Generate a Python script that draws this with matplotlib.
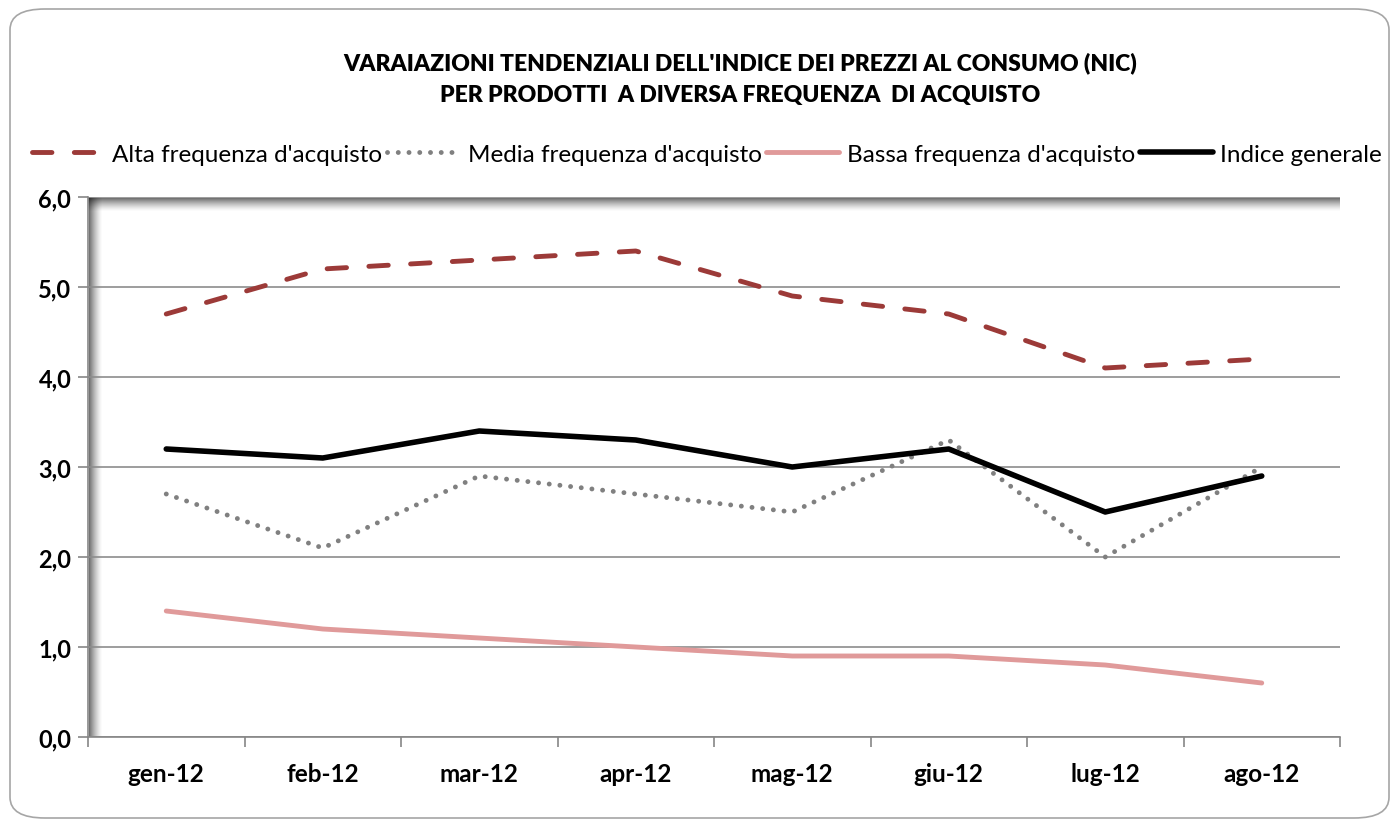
import matplotlib
matplotlib.use("Agg")
import matplotlib.pyplot as plt
from matplotlib.patches import FancyBboxPatch, Rectangle
from matplotlib import font_manager

names = {f.name for f in font_manager.fontManager.ttflist}
FONT = "Lato" if "Lato" in names else "DejaVu Sans"
plt.rcParams['font.family'] = [FONT, 'DejaVu Sans']

months = ["gen-12", "feb-12", "mar-12", "apr-12", "mag-12", "giu-12", "lug-12", "ago-12"]
alta = [4.7, 5.2, 5.3, 5.4, 4.9, 4.7, 4.1, 4.2]
media = [2.7, 2.1, 2.9, 2.7, 2.5, 3.3, 2.0, 3.0]
bassa = [1.4, 1.2, 1.1, 1.0, 0.9, 0.9, 0.8, 0.6]
indice = [3.2, 3.1, 3.4, 3.3, 3.0, 3.2, 2.5, 2.9]
labels = ["Alta frequenza d'acquisto", "Media frequenza d'acquisto",
          "Bassa frequenza d'acquisto", "Indice generale"]
yticks = [0, 1, 2, 3, 4, 5, 6]
title = "VARAIAZIONI TENDENZIALI DELL'INDICE DEI PREZZI AL CONSUMO (NIC)\nPER PRODOTTI  A DIVERSA FREQUENZA  DI ACQUISTO"

W, H = 1399, 829
fig = plt.figure(figsize=(W / 100, H / 100), dpi=100)

# outer rounded border
border = FancyBboxPatch((10 / W, 10 / H), (W - 20) / W, (H - 20) / H,
                        boxstyle="round,pad=0,rounding_size=0.025",
                        transform=fig.transFigure, fill=False,
                        edgecolor="#a6a6a6", linewidth=1.2)
fig.patches.append(border)

L, R, T, B = 88, 1340, 198, 738
ax = fig.add_axes([L / W, 1 - B / H, (R - L) / W, (B - T) / H])

x = list(range(len(months)))
ax.plot(x, alta, color="#9c3a38", lw=3.5, linestyle=(0, (4.0, 4.6)), label=labels[0], dash_capstyle="round")
ax.plot(x, media, color="#808080", lw=3.5, linestyle=(0, (0.01, 2.2)), dash_capstyle="round", label=labels[1])
ax.plot(x, bassa, color="#e09a9a", lw=3.5, label=labels[2], solid_capstyle="round")
ax.plot(x, indice, color="black", lw=4, label=labels[3], solid_capstyle="round")

ax.set_xlim(-0.5, len(months) - 0.5)
ax.set_ylim(0, 6)
ax.set_yticks(yticks)
ax.set_yticklabels([f"{v:.1f}".replace(".", ",") for v in yticks], fontsize=17, fontweight="bold")
ax.set_xticks(x)
ax.set_xticklabels(months, fontsize=17.5, fontweight="bold")
ax.set_xticks([i - 0.5 for i in range(len(months) + 1)], minor=True)
ax.tick_params(axis="x", which="major", length=0, pad=18)
ax.tick_params(axis="x", which="minor", length=7, color="#868686", width=1.2)
ax.tick_params(axis="y", length=7, color="#868686", width=1.2, pad=5)
ax.grid(axis="y", color="#8c8c8c", lw=1.2)
ax.set_axisbelow(True)
for s in ["top", "right"]:
    ax.spines[s].set_visible(False)
for s in ["left", "bottom"]:
    ax.spines[s].set_color("#868686")
    ax.spines[s].set_linewidth(1.2)

# shadow effect on left and top of plot area
n = 13
wx = 1.0 / (R - L)   # one pixel in axes x
wy = 1.0 / (B - T)   # one pixel in axes y
for i in range(n):
    a = 0.55 * (1 - i / n) ** 1.4
    ax.add_patch(Rectangle(((i + 1) * wx, 0), wx, 1, transform=ax.transAxes,
                           color="black", alpha=a, lw=0, zorder=0.5))
    ax.add_patch(Rectangle((0, 1 - (i + 2) * wy), 1, wy, transform=ax.transAxes,
                           color="black", alpha=a, lw=0, zorder=0.5))

fig.text(740 / W, 1 - 79 / H, title, ha="center", va="center", fontsize=16.5,
         fontweight="heavy", linespacing=1.65)

fig.legend(loc="center", bbox_to_anchor=(707 / W, 1 - 155 / H), ncol=4, frameon=False,
           fontsize=17.5, handlelength=3.0, handletextpad=0.3, columnspacing=0.2,
           borderaxespad=0)

fig.savefig("out.png", dpi=100)
